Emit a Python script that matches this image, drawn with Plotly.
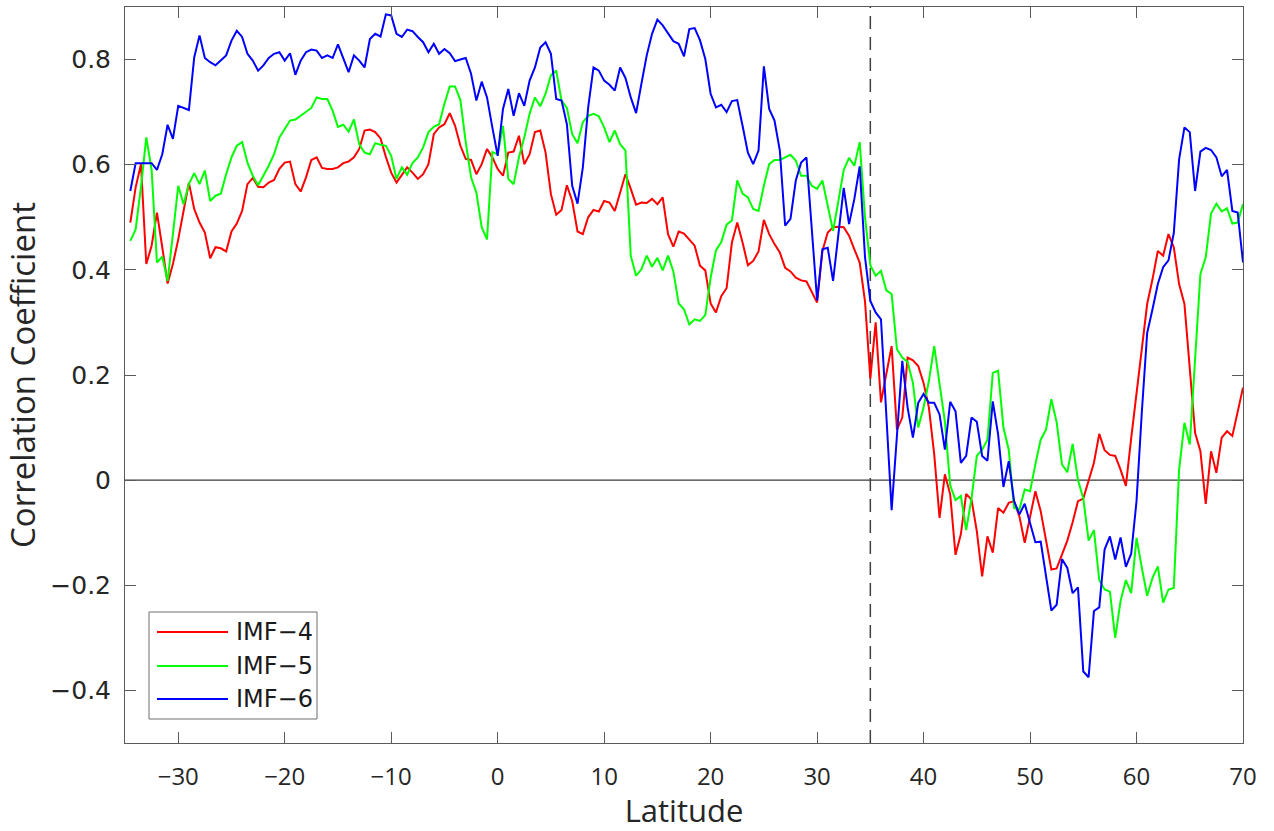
import numpy as np
import plotly.graph_objects as go

# Latitude grid of the correlation profiles (0.5 degree spacing)
latitude = np.arange(-34.5, 70.0 + 0.25, 0.5)

series_names = ["IMF−4", "IMF−5", "IMF−6"]
series_colors = ["#ff0000", "#00ff00", "#0000ff"]

imf4 = [
    0.490, 0.557, 0.601, 0.411, 0.446, 0.509, 0.443, 0.374, 0.411, 0.458,
    0.512, 0.566, 0.516, 0.490, 0.471, 0.422, 0.443, 0.441, 0.435, 0.473,
    0.488, 0.512, 0.563, 0.575, 0.558, 0.557, 0.566, 0.571, 0.592, 0.604,
    0.606, 0.563, 0.549, 0.576, 0.609, 0.614, 0.594, 0.592, 0.592, 0.595,
    0.603, 0.606, 0.614, 0.630, 0.665, 0.667, 0.662, 0.650, 0.615, 0.585,
    0.566, 0.580, 0.595, 0.585, 0.573, 0.582, 0.601, 0.658, 0.671, 0.677,
    0.698, 0.674, 0.636, 0.611, 0.609, 0.582, 0.601, 0.630, 0.614, 0.592,
    0.579, 0.623, 0.625, 0.655, 0.601, 0.620, 0.662, 0.665, 0.623, 0.544,
    0.505, 0.514, 0.561, 0.531, 0.473, 0.468, 0.500, 0.514, 0.511, 0.531,
    0.528, 0.512, 0.547, 0.582, 0.554, 0.524, 0.528, 0.527, 0.535, 0.525,
    0.538, 0.468, 0.444, 0.473, 0.469, 0.458, 0.446, 0.408, 0.399, 0.336,
    0.319, 0.350, 0.365, 0.452, 0.490, 0.452, 0.409, 0.417, 0.435, 0.495,
    0.468, 0.449, 0.433, 0.404, 0.397, 0.385, 0.380, 0.378, 0.357, 0.338,
    0.436, 0.471, 0.481, 0.482, 0.481, 0.465, 0.439, 0.414, 0.340, 0.193,
    0.300, 0.148, 0.202, 0.255, 0.096, 0.119, 0.233, 0.228, 0.217, 0.185,
    0.138, 0.049, -0.072, 0.011, -0.027, -0.142, -0.103, -0.026, -0.037, -0.097,
    -0.183, -0.107, -0.138, -0.053, -0.062, -0.043, -0.040, -0.069, -0.119, -0.072,
    -0.021, -0.059, -0.116, -0.170, -0.168, -0.140, -0.115, -0.080, -0.040, -0.035,
    -0.002, 0.033, 0.088, 0.057, 0.048, 0.046, 0.020, -0.011, 0.080, 0.165,
    0.250, 0.335, 0.382, 0.436, 0.427, 0.468, 0.443, 0.373, 0.335, 0.220,
    0.090, 0.055, -0.045, 0.055, 0.014, 0.081, 0.093, 0.084, 0.131, 0.176,
]

imf5 = [
    0.455, 0.477, 0.558, 0.652, 0.590, 0.414, 0.425, 0.379, 0.468, 0.560,
    0.525, 0.563, 0.584, 0.563, 0.589, 0.531, 0.541, 0.545, 0.582, 0.614,
    0.636, 0.643, 0.604, 0.579, 0.561, 0.579, 0.598, 0.620, 0.652, 0.668,
    0.684, 0.686, 0.693, 0.700, 0.708, 0.728, 0.725, 0.725, 0.703, 0.672,
    0.676, 0.663, 0.686, 0.639, 0.623, 0.620, 0.641, 0.638, 0.636, 0.617,
    0.573, 0.595, 0.581, 0.603, 0.614, 0.633, 0.662, 0.672, 0.677, 0.716,
    0.749, 0.749, 0.723, 0.643, 0.576, 0.547, 0.481, 0.458, 0.624, 0.620,
    0.674, 0.573, 0.563, 0.614, 0.652, 0.697, 0.728, 0.711, 0.735, 0.770,
    0.779, 0.722, 0.708, 0.658, 0.641, 0.681, 0.693, 0.697, 0.692, 0.671,
    0.643, 0.665, 0.639, 0.627, 0.427, 0.389, 0.401, 0.427, 0.406, 0.423,
    0.399, 0.427, 0.397, 0.336, 0.325, 0.296, 0.306, 0.303, 0.314, 0.385,
    0.437, 0.453, 0.486, 0.494, 0.570, 0.545, 0.538, 0.516, 0.512, 0.560,
    0.601, 0.609, 0.609, 0.614, 0.619, 0.608, 0.579, 0.579, 0.560, 0.554,
    0.570, 0.522, 0.474, 0.531, 0.590, 0.613, 0.598, 0.643, 0.500, 0.409,
    0.389, 0.398, 0.361, 0.354, 0.249, 0.233, 0.225, 0.185, 0.100, 0.138,
    0.189, 0.255, 0.185, 0.112, -0.010, -0.038, -0.030, -0.095, -0.035, 0.046,
    0.058, 0.077, 0.204, 0.208, 0.100, 0.058, -0.053, -0.056, -0.018, -0.021,
    0.030, 0.077, 0.096, 0.154, 0.110, 0.030, 0.015, 0.069, 0.000, -0.035,
    -0.115, -0.095, -0.190, -0.208, -0.212, -0.300, -0.230, -0.190, -0.215, -0.110,
    -0.167, -0.220, -0.186, -0.164, -0.233, -0.208, -0.205, 0.020, 0.109, 0.068,
    0.230, 0.392, 0.424, 0.507, 0.526, 0.511, 0.517, 0.488, 0.490, 0.525,
]

imf6 = [
    0.550, 0.603, 0.603, 0.603, 0.603, 0.590, 0.620, 0.676, 0.649, 0.712,
    0.708, 0.704, 0.804, 0.846, 0.803, 0.795, 0.789, 0.798, 0.808, 0.836,
    0.855, 0.843, 0.811, 0.798, 0.779, 0.789, 0.803, 0.811, 0.814, 0.798,
    0.812, 0.771, 0.798, 0.814, 0.819, 0.817, 0.803, 0.808, 0.803, 0.829,
    0.801, 0.776, 0.808, 0.798, 0.785, 0.839, 0.849, 0.844, 0.886, 0.884,
    0.849, 0.843, 0.857, 0.854, 0.843, 0.833, 0.814, 0.830, 0.811, 0.820,
    0.812, 0.797, 0.800, 0.803, 0.773, 0.722, 0.758, 0.728, 0.671, 0.617,
    0.706, 0.744, 0.693, 0.736, 0.712, 0.760, 0.785, 0.823, 0.833, 0.811,
    0.725, 0.722, 0.677, 0.560, 0.526, 0.595, 0.709, 0.785, 0.779, 0.760,
    0.752, 0.741, 0.785, 0.765, 0.728, 0.698, 0.754, 0.808, 0.849, 0.876,
    0.865, 0.849, 0.835, 0.830, 0.806, 0.858, 0.860, 0.837, 0.801, 0.735,
    0.709, 0.714, 0.700, 0.721, 0.723, 0.674, 0.623, 0.601, 0.627, 0.787,
    0.706, 0.684, 0.627, 0.484, 0.497, 0.570, 0.604, 0.614, 0.481, 0.342,
    0.439, 0.442, 0.379, 0.470, 0.556, 0.487, 0.535, 0.597, 0.424, 0.341,
    0.319, 0.306, 0.125, -0.057, 0.085, 0.227, 0.138, 0.081, 0.147, 0.164,
    0.147, 0.147, 0.125, 0.058, 0.149, 0.131, 0.033, 0.046, 0.119, 0.111,
    0.046, 0.037, 0.150, 0.087, -0.013, 0.036, -0.040, -0.065, -0.045, -0.080,
    -0.118, -0.117, -0.180, -0.248, -0.237, -0.150, -0.167, -0.215, -0.204, -0.364,
    -0.375, -0.249, -0.242, -0.132, -0.107, -0.151, -0.109, -0.165, -0.140, -0.040,
    0.130, 0.280, 0.325, 0.373, 0.405, 0.418, 0.470, 0.610, 0.671, 0.662,
    0.550, 0.625, 0.632, 0.628, 0.614, 0.578, 0.590, 0.512, 0.509, 0.414,
]

x_tick_values = [-30, -20, -10, 0, 10, 20, 30, 40, 50, 60, 70]
x_tick_labels = ["−30", "−20", "−10", "0", "10", "20", "30", "40", "50", "60", "70"]
y_tick_values = [-0.4, -0.2, 0.0, 0.2, 0.4, 0.6, 0.8]
y_tick_labels = ["−0.4", "−0.2", "0", "0.2", "0.4", "0.6", "0.8"]

boundary_latitude = 35

series_values = [imf4, imf5, imf6]
for vals in series_values:
    assert len(vals) == len(latitude)

W, H = 1274, 831
M_L, M_R, M_T, M_B = 125, 31, 7, 88
plot_w = W - M_L - M_R
plot_h = H - M_T - M_B


def px_x(px):
    return (px - M_L) / plot_w


def px_y(py):
    return (H - M_B - py) / plot_h


fig = go.Figure()

for name, color, vals in zip(series_names, series_colors, series_values):
    fig.add_trace(go.Scatter(
        x=latitude, y=vals, mode="lines", name=name,
        line=dict(color=color, width=2), showlegend=False,
    ))

# zero reference and the boundary marker
fig.add_shape(type="line", xref="paper", yref="y", x0=0, x1=1, y0=0, y1=0,
              line=dict(color="#3a3a3a", width=1.3), layer="below")
fig.add_shape(type="line", xref="x", yref="paper", x0=boundary_latitude, x1=boundary_latitude,
              y0=0, y1=1, line=dict(color="#404040", width=1.5, dash="13px,8px"), layer="below")

# legend box drawn in pixel space
box_l, box_r, box_t, box_b = 149, 317, 612, 719
fig.add_shape(type="rect", xref="paper", yref="paper",
              x0=px_x(box_l), x1=px_x(box_r), y0=px_y(box_b), y1=px_y(box_t),
              line=dict(color="#6e6e6e", width=1), fillcolor="white", layer="above")
row_y = [632, 666, 699]
for name, color, ry in zip(series_names, series_colors, row_y):
    fig.add_shape(type="line", xref="paper", yref="paper",
                  x0=px_x(157), x1=px_x(228), y0=px_y(ry), y1=px_y(ry),
                  line=dict(color=color, width=2), layer="above")
    fig.add_annotation(xref="paper", yref="paper", x=px_x(234), y=px_y(ry),
                       text=name, showarrow=False, xanchor="left", yanchor="middle",
                       font=dict(family="DejaVu Sans", size=24, color="#1a1a1a"))

axis_common = dict(
    showline=True, linecolor="#5a5a5a", linewidth=1, mirror="ticks",
    ticks="inside", ticklen=11, tickcolor="#5a5a5a", tickwidth=1,
    showgrid=False, zeroline=False,
)

fig.update_layout(
    width=W, height=H,
    margin=dict(l=M_L, r=M_R, t=M_T, b=M_B),
    paper_bgcolor="white", plot_bgcolor="white",
    xaxis=dict(
        range=[-35, 70], tickmode="array", tickvals=x_tick_values, ticktext=x_tick_labels,
        tickfont=dict(family="Open Sans", size=24, color="#262626"),
        ticklabelstandoff=12,
        title=dict(text="Latitude", font=dict(family="Open Sans", size=31, color="#262626"),
                   standoff=6),
        **axis_common,
    ),
    yaxis=dict(
        range=[-0.5, 0.9], tickmode="array", tickvals=y_tick_values, ticktext=y_tick_labels,
        tickfont=dict(family="DejaVu Sans", size=25, color="#262626"),
        ticklabelstandoff=8,
        title=dict(text="Correlation Coefficient",
                   font=dict(family="Open Sans", size=33, color="#262626"), standoff=4),
        **axis_common,
    ),
    showlegend=False,
)

fig.write_html("out.html")
